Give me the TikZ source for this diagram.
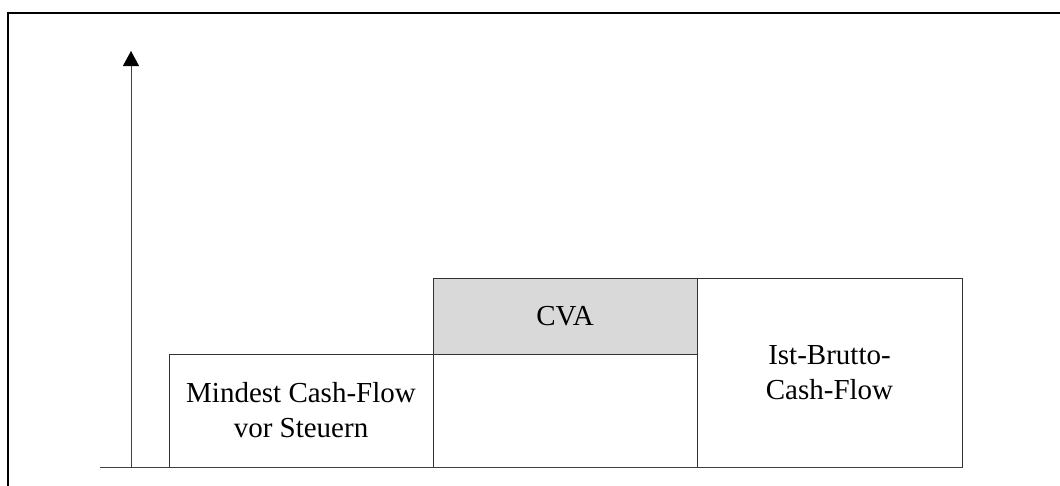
\documentclass[tikz,border=0pt]{standalone}
\usepackage{fontspec}
\setmainfont{Liberation Serif}
\usetikzlibrary{arrows.meta}
\begin{document}
\begin{tikzpicture}[x=1pt,y=-1pt,
  cell/.style={draw=black!80, line width=1pt, inner sep=0pt, outer sep=0pt,
    align=center, font=\fontsize{29}{35}\selectfont, anchor=north west},
  shaded/.style={cell, fill=black!15},
  axisline/.style={draw=black!75, line width=1pt}]
  \useasboundingbox (0,0) rectangle (1060,485);
  \clip (0,0) rectangle (1060,485);
  % outer frame (runs past the right and bottom edges)
  \draw[line width=2pt] (8.3,500) -- (8.3,13.3) -- (1080,13.3);
  % stacked blocks
  \node[cell, minimum width=264pt, minimum height=113pt] (mind) at (169,354) {Mindest Cash-Flow\\vor Steuern};
  \node[cell, minimum width=264pt, minimum height=113pt] (base) at (433,354) {};
  \node[shaded, minimum width=264pt, minimum height=76pt] (cva) at (433,278) {CVA};
  \node[cell, minimum width=265pt, minimum height=189pt] (ist) at (697,278) {Ist-Brutto-\\Cash-Flow};
  % axes
  \coordinate (xstart) at (100,467);
  \coordinate (yfoot) at (131,467);
  \coordinate (ytip) at (131,51);
  \draw[axisline] (xstart) -- (ist.south east);
  \draw[axisline, -{Triangle[width=16pt,length=15pt,color=black,fill=black]}] (yfoot) -- (ytip);
\end{tikzpicture}
\end{document}
